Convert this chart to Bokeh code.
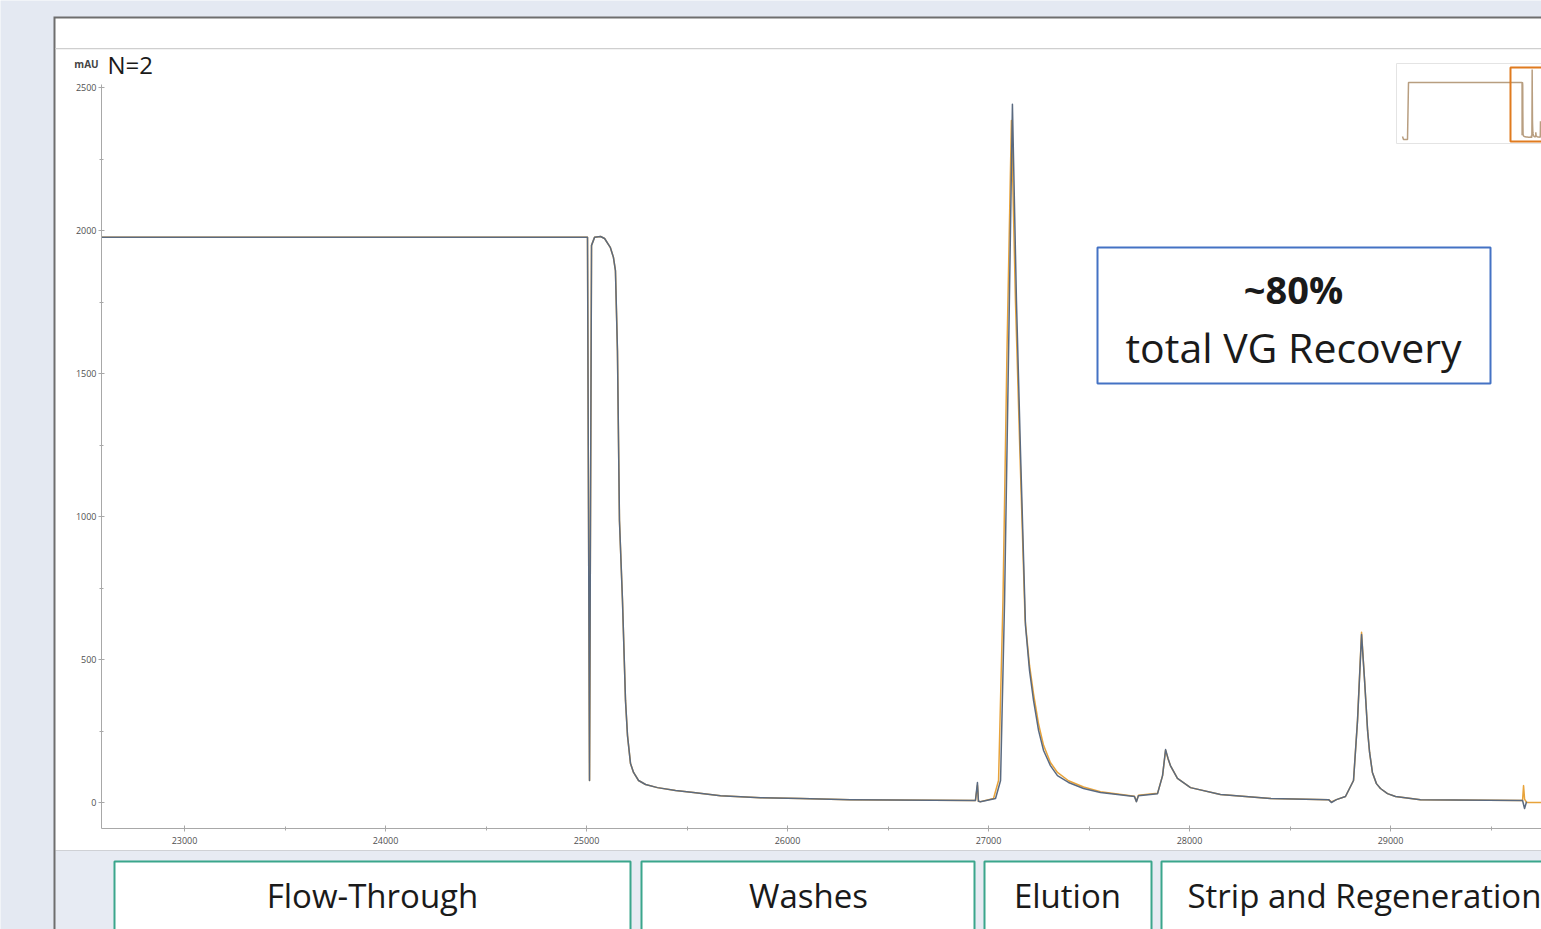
from bokeh.plotting import figure
from bokeh.models import Range1d, FixedTicker, BoxAnnotation, Label
from bokeh.embed import file_html
from bokeh.resources import INLINE

# ---------------- data ----------------
x_ticks = [23000, 24000, 25000, 26000, 27000, 28000, 29000]
x_minor = [23500, 24500, 25500, 26500, 27500, 28500, 29500]
y_ticks = [0, 500, 1000, 1500, 2000, 2500]
y_minor = [250, 750, 1250, 1750, 2250]
phase_labels = ["Flow-Through", "Washes", "Elution", "Strip and Regeneration"]

run1_x = [22587, 25005, 25015, 25025, 25040, 25070, 25090, 25119, 25134, 25144,
          25154, 25164, 25179, 25194, 25204, 25219, 25234, 25259, 25294, 25353,
          25443, 25532, 25667, 25866, 26065, 26313, 26935, 26945, 26950, 26960,
          27035, 27060, 27080, 27100, 27119, 27139, 27159, 27184, 27204, 27224,
          27249, 27274, 27308, 27343, 27398, 27473, 27557, 27642, 27726, 27736,
          27746, 27841, 27866, 27881, 27893, 27905, 27940, 28005, 28154, 28403,
          28692, 28706, 28731, 28776, 28816, 28836, 28856, 28871, 28886, 28896,
          28910, 28930, 28950, 28985, 29025, 29149, 29657, 29667, 29677]
run1_y = [1976, 1976, 77, 1948, 1976, 1979, 1972, 1940, 1906, 1860,
          1580, 986, 706, 357, 234, 136, 105, 77, 63, 52,
          42, 35, 24, 17, 14, 10, 7, 70, 4, 3,
          14, 77, 706, 1580, 2441, 1755, 1231, 619, 462, 357,
          252, 182, 129, 94, 70, 49, 35, 28, 21, 3,
          24, 31, 94, 185, 155, 129, 84, 52, 28, 14,
          10, 0, 10, 21, 77, 287, 587, 427, 252, 175,
          105, 66, 49, 31, 21, 10, 7, -21, 3]

run2_x = [22587, 25005, 25015, 25025, 25040, 25070, 25090, 25119, 25134, 25144,
          25154, 25164, 25179, 25194, 25204, 25219, 25234, 25259, 25294, 25353,
          25443, 25532, 25667, 25866, 26065, 26313, 26935, 26945, 26950, 26960,
          27025, 27050, 27072, 27092, 27114, 27134, 27156, 27182, 27204, 27224,
          27249, 27274, 27308, 27343, 27398, 27473, 27557, 27642, 27726, 27736,
          27746, 27841, 27866, 27881, 27893, 27905, 27940, 28005, 28154, 28403,
          28692, 28706, 28731, 28776, 28816, 28836, 28856, 28871, 28886, 28896,
          28910, 28930, 28950, 28985, 29025, 29149, 29657, 29662, 29667, 29677,
          29751]
run2_y = [1976, 1976, 77, 1948, 1976, 1979, 1972, 1940, 1906, 1860,
          1580, 986, 706, 357, 234, 136, 105, 77, 63, 52,
          42, 35, 24, 17, 14, 10, 7, 60, 4, 3,
          14, 77, 706, 1580, 2385, 1755, 1231, 640, 480, 380,
          275, 200, 140, 105, 76, 54, 38, 30, 22, 4,
          25, 32, 94, 183, 153, 129, 84, 52, 28, 14,
          10, 2, 10, 21, 77, 287, 595, 427, 252, 175,
          105, 66, 49, 31, 21, 10, 7, 59, 12, 0,
          0]

# overview (thumbnail): start of the run, then the run itself
overview_start_x = [0, 209, 1046, 1255]
overview_start_y = [36, -72, -72, 1975]

# ---------------- layout helpers (page pixels -> data units) ----------------
W, H = 1541, 929


def px2x(px):
    return 23000 + (px - 184) * 1000 / 201


def py2y(py):
    return (802 - py) * 2500 / 715


OV_SX = (1510 - 1402) / (px2x(101) - 0)


def px2ov(px):
    return (px - 1402) / OV_SX


def py2ov(py):
    return (137 - py) * 1975 / 55


BG = "#E4E9F2"
FONT = "Open Sans"

p = figure(width=W, height=H, output_backend="svg", toolbar_location=None,
           x_range=Range1d(px2x(0), px2x(W)),
           y_range=Range1d(py2y(H), py2y(0)),
           min_border=0, min_border_left=0, min_border_right=0,
           min_border_top=0, min_border_bottom=0,
           background_fill_color=BG, border_fill_color=BG,
           outline_line_color=None)
p.grid.visible = False
p.title.visible = False

p.extra_x_ranges = {"ov": Range1d(px2ov(0), px2ov(W))}
p.extra_y_ranges = {"ov": Range1d(py2ov(H), py2ov(0))}

AX = "#A8A8A8"
for ax in (p.xaxis[0], p.yaxis[0]):
    ax.axis_line_color = AX
    ax.major_tick_line_color = AX
    ax.minor_tick_line_color = AX
    ax.major_tick_in = 3
    ax.major_tick_out = 3
    ax.minor_tick_in = 2
    ax.minor_tick_out = 2
    ax.major_label_text_font = FONT
    ax.major_label_text_font_size = "9px"
    ax.major_label_text_color = "#505050"
p.xaxis.ticker = FixedTicker(ticks=x_ticks, minor_ticks=x_minor)
p.yaxis.ticker = FixedTicker(ticks=y_ticks, minor_ticks=y_minor)
p.xaxis.fixed_location = py2y(828)
p.yaxis.fixed_location = px2x(101)
p.xaxis.bounds = (px2x(101), px2x(W + 50))
p.yaxis.bounds = (py2y(828), py2y(84))
p.xaxis.major_label_standoff = 5
p.yaxis.major_label_standoff = 2


# ---------------- page decoration ----------------
def box(l, r, t, b, fill, line=None, lw=0, level="annotation"):
    p.add_layout(BoxAnnotation(left=px2x(l), right=px2x(r), top=py2y(t), bottom=py2y(b),
                               fill_color=fill, fill_alpha=1 if fill else 0,
                               line_color=line, line_alpha=1 if line else 0,
                               line_width=lw, level=level))


box(53, 1800, 16, 1100, "#6E6E6E", level="image")      # panel border
box(55, 1800, 18, 850, "white", level="image")         # white panel
box(55, 1800, 850, 1100, "#E7EBF3", level="image")     # bottom band
box(55, 1800, 47.5, 48.7, "#CFCFCF", level="image")    # separator

# ---------------- inset overview ----------------
p.quad(left=px2ov(1396), right=px2ov(1700), bottom=py2ov(143), top=py2ov(63),
       x_range_name="ov", y_range_name="ov",
       fill_color="white", line_color="#E4E4E4", line_width=1)
p.line(overview_start_x + run1_x, overview_start_y + run1_y,
       x_range_name="ov", y_range_name="ov",
       line_color="#B89E80", line_width=1.5)
p.quad(left=run2_x[0], right=run2_x[-1], bottom=py2ov(141), top=py2ov(67),
       x_range_name="ov", y_range_name="ov",
       fill_alpha=0, line_color="#E07B1F", line_width=2)

# ---------------- traces ----------------
p.line(run2_x, run2_y, line_color="#E8A33A", line_width=1.5, line_join="round")
p.line(run1_x, run1_y, line_color="#5A6A80", line_width=1.5, line_join="round")

# ---------------- boxes ----------------
TEAL = "#3BA68C"
phase_boxes = [(114, 630), (641, 974), (984, 1151), (1161, 1800)]
for (l, r) in phase_boxes:
    box(l, r, 861, 1000, "white", TEAL, 2)

box(1097, 1490, 247, 383, "white", "#4472C4", 2)


# ---------------- texts ----------------
def label(px, py, text, size, align="center", bold=False, color="#1A1A1A"):
    p.add_layout(Label(x=px2x(px), y=py2y(py), text=text, text_font=FONT,
                       text_font_size=f"{size}px", text_align=align,
                       text_baseline="middle", text_color=color,
                       text_font_style="bold" if bold else "normal"))


label(86, 63, "mAU", 10, color="#444444", bold=True)
label(107, 64, "N=2", 24, align="left")
label(1293, 288, "~80%", 38, bold=True)
label(1293, 346, "total VG Recovery", 41)

phase_text_pos = [(372, "center"), (808, "center"), (1067, "center"), (1187, "left")]
for name, (px, al) in zip(phase_labels, phase_text_pos):
    label(px, 895, name, 33, align=al)

open("out.html", "w").write(file_html(p, INLINE))
